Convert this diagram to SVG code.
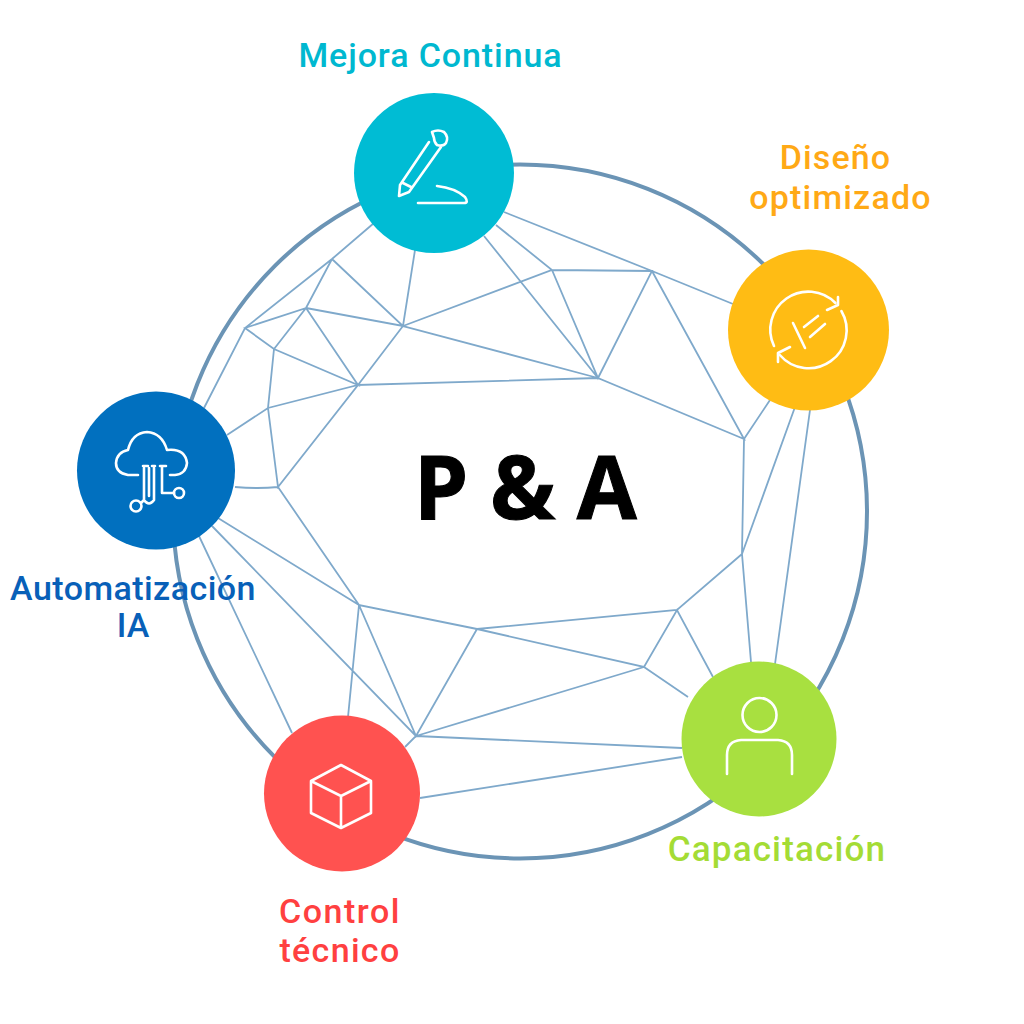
<svg xmlns="http://www.w3.org/2000/svg" width="1024" height="1024" viewBox="0 0 1024 1024">
<style>
.ring{fill:none;stroke:#6b94b5;stroke-width:4}
.e{fill:none;stroke:#7fa9cb;stroke-width:1.8}
.ic{fill:none;stroke:#fff;stroke-width:2.6;stroke-linecap:round;stroke-linejoin:round}
.t{font-family:"Roboto","Liberation Sans",sans-serif;font-weight:500;font-size:34px;text-anchor:middle}
</style>
<rect width="1024" height="1024" fill="#fff"/>
<g id="connectors">
<circle class="ring" cx="520" cy="511.5" r="347"/>
<path class="e" d="M374 223L332 259L245 328L204 408M332 259L306 308L245 328L274 349L358 385L306 308L274 349L268 408L278 487L358 385L268 408L227 435M332 259L403 326L306 308M415 250L403 326L358 385L598 378L403 326L552 270L652 271L598 378L552 270L496 225M484 236L598 378L744 439L652 271M504 212L652 271L733 304M744 439L770 400M744 439L742 554L795 407M810 410L775 664M742 554L751 662M742 554L677 610L477 629L644 667L677 610L713 677M644 667L688 697M644 667L416 736L682 748M477 629L416 736L359 605L477 629M278 487L359 605L218 518M359 605L348 717M212 526L416 736L405 747M199 536L292 733M420 798L682 757M235 487Q258 489 278 487"/>
</g>
<g id="mejora">
<circle cx="434" cy="173" r="80" fill="#00bcd4"/>
<path class="ic" d="M429 142L400 185L399 196L409 192L441 147M403 183L411 187M432 132Q438 129 444 132Q449 137 446 143Q443 147 437 145Q434 142 434 138Z"/>
<path class="ic" d="M437 186Q455 188 465 197Q469 203 464 203L418 203"/>
<text class="t" style="fill:#00b8d0;letter-spacing:.9px" x="430.5" y="67">Mejora Continua</text>
</g>
<g id="diseno">
<circle cx="808.5" cy="330" r="80.5" fill="#ffbc14"/>
<path class="ic" d="M774 346A38 38 0 0 1 835.4 303M841.4 311A38 38 0 0 1 779.8 355"/>
<path class="ic" d="M827 310L838 305L838 297M790 347L778 353L778 362M793 323L805 348M804 327L818 316M810 337L825 324"/>
<text class="t" style="fill:#ffa916;letter-spacing:1.1px" x="835.5" y="169">Diseño</text>
<text class="t" style="fill:#ffa916;letter-spacing:1.2px" x="840.5" y="209">optimizado</text>
</g>
<g id="automatizacion">
<circle cx="156" cy="470.5" r="79" fill="#0170bf"/>
<path class="ic" d="M138 475L128 475Q116 473 116 463Q117 452 128 450Q132 433 147 432Q162 433 167 450Q185 448 187 463Q186 474 175 475L170 475M143 466L148 466M152 466L155 466M160 466L166 466M144 468L144 500Q149 507 154 500L154 468M149 468L149 496M162 466L162 493L174 493M141 503L144 500"/>
<circle class="ic" cx="136" cy="506" r="5.5"/><circle class="ic" cx="179" cy="493" r="5"/>
<text class="t" style="fill:#0860b8;letter-spacing:.45px" x="133" y="600">Automatización</text>
<text class="t" style="fill:#0860b8" x="133" y="637">IA</text>
</g>
<g id="control">
<circle cx="342" cy="793.5" r="78" fill="#ff5250"/>
<path class="ic" d="M341 765L371 781L371 813L341 828L311 813L311 781ZM311 781L341 796L371 781M341 796L341 828"/>
<text class="t" style="fill:#ff4040;letter-spacing:1.5px" x="340" y="923">Control</text>
<text class="t" style="fill:#ff4040;letter-spacing:1.3px" x="340" y="962">técnico</text>
</g>
<g id="capacitacion">
<circle cx="759" cy="739" r="77.5" fill="#a8e040"/>
<circle class="ic" cx="759.5" cy="715" r="17"/>
<path class="ic" d="M727 774L727 755Q727 741 741 740L778 740Q792 741 792 755L792 774"/>
<text class="t" style="fill:#a4dc35;font-size:35px;letter-spacing:1.15px" x="777" y="861">Capacitación</text>
</g>
<text id="center-title" x="525" y="519" font-family="'Open Sans','Liberation Sans',sans-serif" font-weight="700" font-size="87" stroke="#000" stroke-width="1" letter-spacing="-.5" text-anchor="middle">P &amp; A</text>
</svg>
